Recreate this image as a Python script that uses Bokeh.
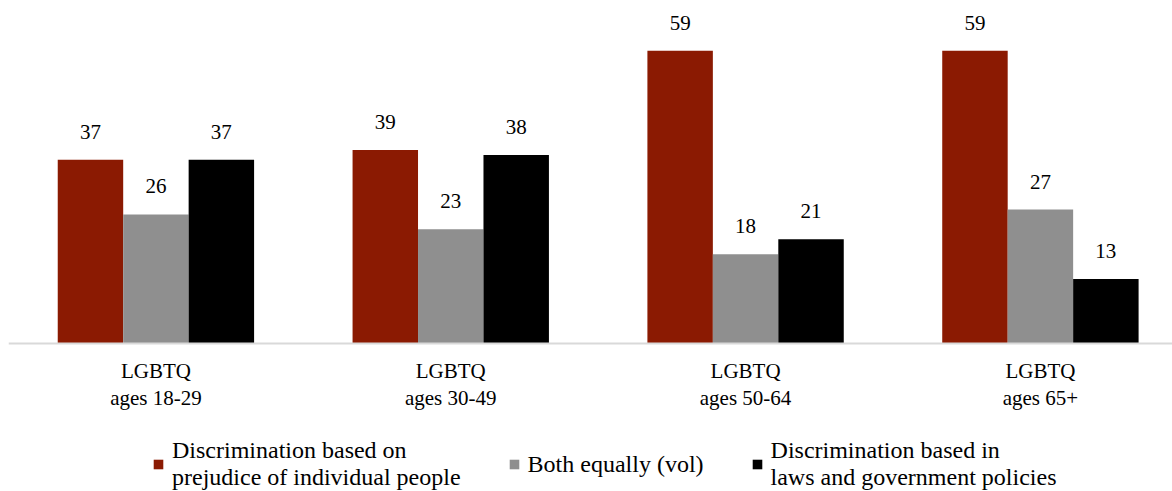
from bokeh.plotting import figure
from bokeh.models import ColumnDataSource, Range1d, Legend, LegendItem, Span
from bokeh.core.properties import value
from bokeh.embed import file_html
from bokeh.resources import INLINE

categories = ["LGBTQ\nages 18-29", "LGBTQ\nages 30-49", "LGBTQ\nages 50-64", "LGBTQ\nages 65+"]
series_names = [
    "Discrimination based on\nprejudice of individual people",
    "Both equally (vol)",
    "Discrimination based in\nlaws and government policies",
]
prejudice = [37, 39, 59, 59]
both_equally = [26, 23, 18, 27]
laws_policies = [37, 38, 21, 13]

colors = ["#8b1a02", "#8f8f8f", "#000000"]
FONT = "Liberation Serif"

centers = [i + 0.5 for i in range(len(categories))]
bar_w = 0.222
offsets = [-bar_w, 0.0, bar_w]

# the frame spans the whole canvas; the space under the baseline holds category names and legend
p = figure(frame_width=1164, frame_height=491, output_backend="svg", toolbar_location=None,
           x_range=Range1d(0.0, 3.948), y_range=Range1d(-29.8, 69.1),
           min_border_left=8, min_border_right=0, min_border_top=0, min_border_bottom=0)
p.outline_line_color = None
p.grid.visible = False
p.axis.visible = False

renderers = []
for vals, off, col in zip([prejudice, both_equally, laws_policies], offsets, colors):
    src = ColumnDataSource(dict(x=[c + off for c in centers], top=vals,
                                label=[str(v) for v in vals]))
    r = p.vbar(x="x", top="top", bottom=0, width=bar_w, source=src,
               fill_color=col, line_color=None)
    renderers.append(r)
    p.text(x="x", y="top", text="label", source=src, text_align="center",
           text_baseline="bottom", y_offset=-21, text_font=value(FONT),
           text_font_size="21px", text_color="#000000")

# baseline
p.add_layout(Span(location=0, dimension="width", line_color="#d9d9d9", line_width=2))

# category names under the baseline
cat_src = ColumnDataSource(dict(x=centers, y=[0] * len(centers), text=categories))
p.text(x="x", y="y", text="text", source=cat_src, text_align="center", text_baseline="top",
       y_offset=15, text_font=value(FONT), text_font_size="21px",
       text_line_height=1.15, text_color="#000000")

legend = Legend(items=[LegendItem(label=n, renderers=[r]) for n, r in zip(series_names, renderers)],
                orientation="horizontal", location=(144, 0),
                glyph_width=12, glyph_height=12, label_standoff=8, spacing=47,
                label_text_font=FONT, label_text_font_size="24px", label_text_line_height=1.1,
                label_text_color="#000000", border_line_color=None,
                background_fill_alpha=0, padding=0, margin=0)
p.add_layout(legend, "center")

open("out.html", "w").write(file_html(p, INLINE))
